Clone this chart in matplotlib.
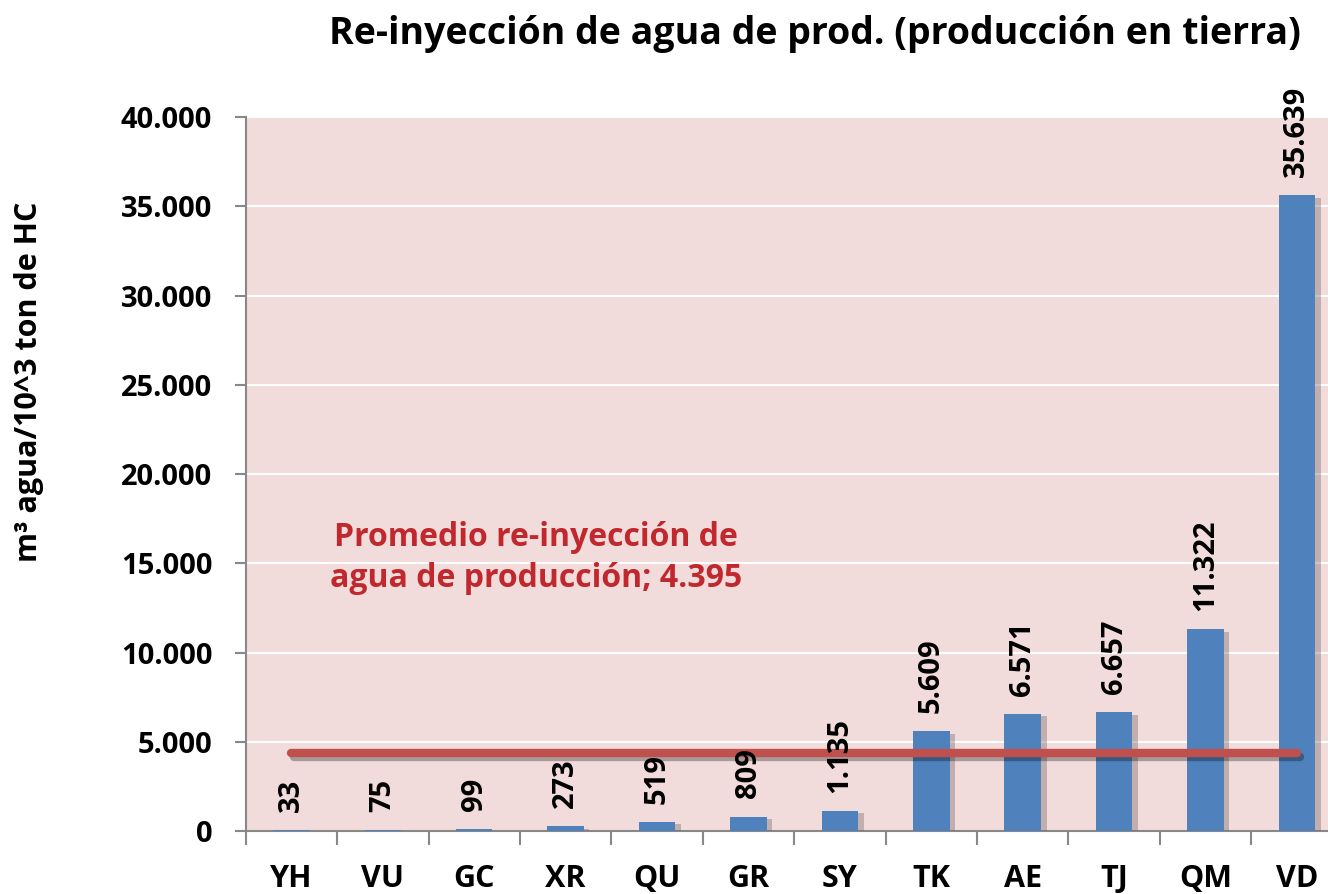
import numpy as np
import matplotlib
matplotlib.use("Agg")
import matplotlib.pyplot as plt
import matplotlib.patheffects as pe

plt.rcParams['font.family'] = ['Open Sans', 'DejaVu Sans']

# data
categories = ['YH', 'VU', 'GC', 'XR', 'QU', 'GR', 'SY', 'TK', 'AE', 'TJ', 'QM', 'VD']
values = [33, 75, 99, 273, 519, 809, 1135, 5609, 6571, 6657, 11322, 35639]
average = 4395
yticks = [0, 5000, 10000, 15000, 20000, 25000, 30000, 35000, 40000]

def fmt(v):
    return f"{v:,}".replace(",", ".")

fig = plt.figure(figsize=(13.28, 8.94), dpi=100)
ax = fig.add_axes([0.185, 0.0705, 0.826, 0.7985])
ax.set_facecolor('#F2DCDB')

x = np.arange(len(categories))
bars = ax.bar(x, values, width=0.4, color='#4F81BD', zorder=3)
for b in bars:
    b.set_path_effects([pe.SimplePatchShadow(offset=(4, -2), shadow_rgbFace='#7a6a6a', alpha=0.4),
                        pe.Normal()])

# value labels
for xi, v in zip(x, values):
    ax.annotate(fmt(v), (xi, v), xytext=(0, 13), textcoords='offset points',
                rotation=90, ha='center', va='bottom', fontsize=21,
                fontweight='bold', color='black', zorder=5)

# average line
ax.plot([x[0], x[-1]], [average, average], color='#C0504D', lw=6,
        solid_capstyle='round', zorder=4,
        path_effects=[pe.SimpleLineShadow(offset=(2, -3), shadow_color='k', alpha=0.3),
                      pe.Normal()])
ax.text(2.68, 15300, "Promedio re-inyección de\nagua de producción; " + fmt(average),
        ha='center', va='center', fontsize=23, fontweight='bold', color='#C0282D',
        linespacing=1.35, zorder=5)

ax.set_ylim(0, 40000)
ax.set_xlim(-0.5, len(categories) - 0.5)
ax.set_yticks(yticks)
ax.set_yticklabels([fmt(t) for t in yticks], fontsize=21, fontweight='bold')
ax.yaxis.grid(True, color='white', lw=1.5, zorder=1)
ax.set_axisbelow(True)

ax.set_xticks(np.arange(-0.5, len(categories)), labels=[''] * (len(categories) + 1))
ax.set_xticks(x, labels=categories, minor=True)
ax.tick_params(axis='x', which='major', length=10, color='#888888', width=1.5)
ax.tick_params(axis='x', which='minor', length=0, pad=24, labelsize=22)
for lbl in ax.get_xticklabels(minor=True):
    lbl.set_fontweight('bold')
ax.tick_params(axis='y', length=8, color='#888888', width=1.5, pad=16)

for s in ['top', 'right']:
    ax.spines[s].set_visible(False)
for s in ['left', 'bottom']:
    ax.spines[s].set_color('#888888')
    ax.spines[s].set_linewidth(1.5)

fig.text(0.022, 0.573, "m³ agua/10^3 ton de HC", rotation=90, ha='center', va='center',
         fontsize=22, fontweight='bold')
fig.text(0.614, 0.962, "Re-inyección de agua de prod. (producción en tierra)",
         ha='center', va='center', fontsize=27, fontweight='bold')

fig.savefig('out.png', dpi=100)
